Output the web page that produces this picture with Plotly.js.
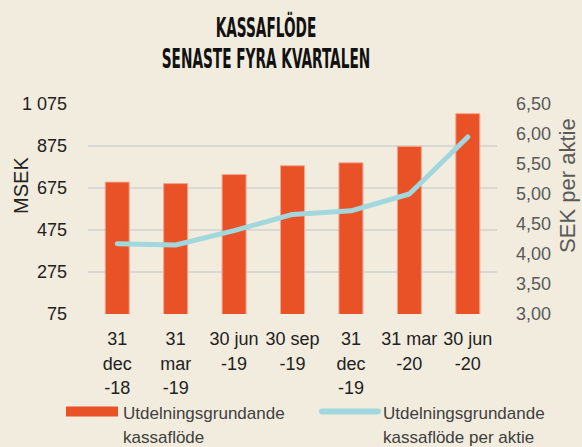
<!DOCTYPE html>
<html><head><meta charset="utf-8">
<script src="https://cdn.plot.ly/plotly-3.0.1.min.js"></script>
<style>html,body{margin:0;padding:0;background:#F1ECDD;}#c{width:582px;height:447px;}</style>
</head><body><div id="c"></div>
<script>
const categories = ["31<br>dec<br>-18","31<br>mar<br>-19","30 jun<br>-19","30 sep<br>-19","31<br>dec<br>-19","31 mar<br>-20","30 jun<br>-20"];
const cashflowMSEK = [703, 696, 739, 781, 795, 873, 1029];
const cashflowPerShareSEK = [4.17, 4.15, 4.39, 4.66, 4.72, 5.00, 5.95];
const leftTicks = [75, 275, 475, 675, 875, 1075];
const seriesNames = ["Utdelningsgrundande<br>kassaflöde", "Utdelningsgrundande<br>kassaflöde per aktie"];
const axisTitles = ["MSEK", "SEK per aktie"];
const chartTitle = "KASSAFLÖDE<br>SENASTE FYRA KVARTALEN";

const FAM = 'Liberation Sans, Arial, Helvetica, sans-serif';
const barColor = '#E95127';
const lineColor = '#A3D7DE';
// wrap each line in a span so glyph size stays set while line spacing follows the base font
const spanLines = (s, px) => s.split('<br>').map(t => '<span style="font-size:' + px + 'px">' + t + '</span>').join('<br>');
const tickText = categories.map(c => spanLines(c, 18));

const data = [
  {type:'bar', x: categories, y: cashflowMSEK, name: seriesNames[0], showlegend:false,
   marker:{color: barColor, line:{color:'#F2A58C', width:1}}, yaxis:'y'},
  {type:'scatter', mode:'lines', x: categories, y: cashflowPerShareSEK, name: seriesNames[1], showlegend:false,
   line:{color: lineColor, width:5}, yaxis:'y2'},
  // legend-only entries (no visible points)
  {type:'scatter', mode:'lines', x: [categories[0]], y: [null], name: spanLines(seriesNames[0], 17), legend:'legend',
   showlegend:true, line:{color: barColor, width:11}, hoverinfo:'skip'},
  {type:'scatter', mode:'lines', x: [categories[0]], y: [null], name: spanLines(seriesNames[1], 17), legend:'legend2',
   showlegend:true, line:{color: lineColor, width:6}, yaxis:'y2', hoverinfo:'skip'}
];

const legendBase = {orientation:'h', xref:'container', yref:'container', xanchor:'left', yanchor:'top',
  y: 0.121, valign:'top', bgcolor:'rgba(0,0,0,0)', borderwidth:0,
  font:{family:FAM, size:18.5, color:'#404040'}};

const layout = {
  width:582, height:447,
  paper_bgcolor:'#F1ECDD', plot_bgcolor:'#F1ECDD',
  font:{family:FAM, size:18, color:'#222'},
  separators: ', ',
  margin:{l:88, r:85, t:104, b:133, autoexpand:false},
  bargap:0.59,
  title:{text: spanLines(chartTitle, 26), xref:'container', x:0.457, xanchor:'center',
    yref:'container', y:0.918, yanchor:'top',
    font:{family:'DejaVu Sans Condensed, DejaVu Sans, sans-serif', size:24, weight:'bold', color:'#111'}},
  xaxis:{type:'category', tickvals: categories, ticktext: tickText, showgrid:false, showline:false, zeroline:false,
    ticks:'', ticklabelstandoff:11, tickangle:0, tickfont:{family:FAM, size:19, color:'#222'}},
  yaxis:{range:[75,1075], tickvals: leftTicks, tickformat:',d', separatethousands:true,
    showgrid:true, gridcolor:'#DAD8D3', gridwidth:2, zeroline:false, showline:false, ticks:'', ticklabelstandoff:20,
    tickfont:{family:FAM, size:18, color:'#222'}},
  yaxis2:{range:[3,6.5], dtick:0.5, tick0:3, tickformat:'.2f', overlaying:'y', side:'right',
    showgrid:false, zeroline:false, showline:false, ticks:'', ticklabelstandoff:18,
    tickfont:{family:FAM, size:18, color:'#595959'}},
  annotations:[
    {text: axisTitles[0], xref:'paper', yref:'paper', x:-0.1638, y:0.61, xanchor:'center', yanchor:'middle',
     textangle:-90, showarrow:false, font:{family:FAM, size:20, color:'#222'}},
    {text: axisTitles[1], xref:'paper', yref:'paper', x:1.1736, y:0.61, xanchor:'center', yanchor:'middle',
     textangle:-90, showarrow:false, font:{family:FAM, size:22, color:'#595959'}}
  ],
  showlegend:true,
  legend: Object.assign({}, legendBase, {x: 61/582, itemwidth:52}),
  legend2: Object.assign({}, legendBase, {x: 317/582, itemwidth:56})
};
Plotly.newPlot('c', data, layout, {displayModeBar:false, staticPlot:true}).then(gd => {
  const t = gd.querySelector('.gtitle');
  if (t) {
    const cx = 0.457 * 582;
    t.setAttribute('transform', 'translate(' + cx + ',0) scale(0.585,1) translate(' + (-cx) + ',0)');
  }
  gd.querySelectorAll('.scatterlayer .js-line').forEach(p => { p.style.strokeLinecap = 'round'; p.style.strokeLinejoin = 'round'; });
  const legLines = gd.querySelectorAll('.legend2 .js-line, .legend2 path.js-line');
  legLines.forEach(p => { p.style.strokeLinecap = 'round'; });
});
</script></body></html>
